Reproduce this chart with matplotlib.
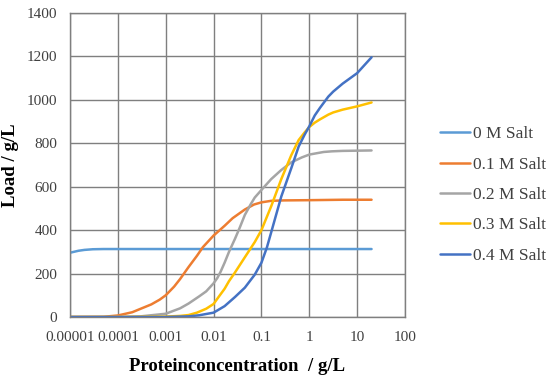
import numpy as np
import matplotlib
matplotlib.use("Agg")
import matplotlib.pyplot as plt
from matplotlib.ticker import FixedLocator, NullLocator

plt.rcParams['font.family'] = ['Liberation Serif', 'DejaVu Serif']

# 0 M Salt
conc_00 = [1e-5, 1.5e-5, 2e-5, 3e-5, 5e-5, 1e-4, 1e-3, 1e-2, 1e-1, 1, 10, 20]
load_00 = [296, 305, 309, 312, 313, 313, 313, 313, 313, 313, 313, 313]

# 0.1 M Salt
conc_01 = [1e-5, 5e-5, 1e-4, 2e-4, 3e-4, 5e-4, 7.5e-4, 1e-3, 1.5e-3, 2e-3, 3e-3,
           4.5e-3, 6e-3, 0.01, 0.017, 0.025, 0.045, 0.07, 0.1, 0.16, 0.3, 1, 5, 20]
load_01 = [0, 1, 7, 22, 38, 58, 80, 100, 140, 175, 230,
           282, 322, 375, 420, 455, 495, 518, 528, 535, 537, 538, 540, 540]

# 0.2 M Salt
conc_02 = [1e-5, 1e-4, 3e-4, 1e-3, 2e-3, 3e-3, 5e-3, 0.007, 0.01, 0.012, 0.014, 0.017,
           0.021, 0.028, 0.035, 0.045, 0.06, 0.0725, 0.1, 0.16, 0.26, 0.42, 0.7, 1,
           2, 3, 5, 10, 20]
load_02 = [0, 0, 3, 15, 40, 62, 95, 118, 155, 180, 208, 250,
           300, 360, 410, 470, 520, 550, 585, 635, 677, 712, 735, 748,
           760, 763, 765, 766, 767]

# 0.3 M Salt
conc_03 = [1e-5, 1e-4, 1e-3, 2e-3, 3e-3, 4.5e-3, 7e-3, 0.01, 0.013, 0.017, 0.021,
           0.028, 0.045, 0.0725, 0.1, 0.16, 0.26, 0.42, 0.6, 0.8, 1, 1.3, 1.67, 2.5,
           3.16, 5, 10, 20]
load_03 = [0, 0, 2, 5, 9, 20, 38, 60, 95, 130, 165,
           205, 275, 345, 400, 510, 635, 745, 815, 850, 875, 895, 910, 932,
           942, 955, 970, 988]

# 0.4 M Salt
conc_04 = [1e-5, 1e-4, 1e-3, 3e-3, 5e-3, 0.01, 0.017, 0.028, 0.045, 0.0725, 0.1,
           0.13, 0.16, 0.26, 0.42, 0.6, 0.8, 1, 1.3, 1.67, 2.5, 3.16, 5, 10, 20]
load_04 = [0, 0, 0, 3, 8, 20, 50, 92, 135, 195, 250,
           320, 390, 555, 685, 785, 840, 878, 928, 963, 1015, 1038, 1075, 1123, 1196]

labels = ["0 M Salt", "0.1 M Salt", "0.2 M Salt", "0.3 M Salt", "0.4 M Salt"]
colors = ["#5B9BD5", "#ED7D31", "#A5A5A5", "#FFC000", "#4472C4"]

x_ticks = [1e-5, 1e-4, 1e-3, 1e-2, 1e-1, 1, 10, 100]
x_ticklabels = ["0.00001", "0.0001", "0.001", "0.01", "0.1", "1", "10", "100"]
y_ticks = [0, 200, 400, 600, 800, 1000, 1200, 1400]

fig = plt.figure(figsize=(5.5, 3.77), dpi=100)
ax = fig.add_axes([70/550, 1-317/377, 335/550, 304/377])

series = [(conc_00, load_00), (conc_01, load_01), (conc_02, load_02),
          (conc_03, load_03), (conc_04, load_04)]
for (xs, ys), lab, col in zip(series, labels, colors):
    ax.plot(xs, ys, color=col, lw=1.8, label=lab,
            solid_capstyle='round', solid_joinstyle='round')

ax.set_xscale('log')
ax.set_xlim(1e-5, 100)
ax.set_ylim(0, 1400)
ax.xaxis.set_major_locator(FixedLocator(x_ticks))
ax.xaxis.set_minor_locator(NullLocator())
ax.set_xticklabels(x_ticklabels)
ax.set_yticks(y_ticks)
ax.tick_params(length=0, labelsize=11, colors='#404040')
ax.tick_params(axis='x', pad=10)
ax.tick_params(axis='y', pad=9)
ax.grid(True, color='#7F7F7F', lw=1.0)
ax.set_axisbelow(True)
for sp in ax.spines.values():
    sp.set_color('#7F7F7F')
    sp.set_linewidth(1.0)

ax.set_xlabel("Proteinconcentration  / g/L", fontsize=13.5, fontweight='bold', labelpad=10)
ax.set_ylabel("Load / g/L", fontsize=13.5, fontweight='bold', labelpad=6)

leg = fig.legend(loc='center left', bbox_to_anchor=(0.80, 0.483), frameon=False,
                 fontsize=12.5, handlelength=1.75, handletextpad=0.15,
                 labelspacing=0.82, borderaxespad=0, borderpad=0)
for t in leg.get_texts():
    t.set_color('#404040')

fig.savefig("out.png", dpi=100)
